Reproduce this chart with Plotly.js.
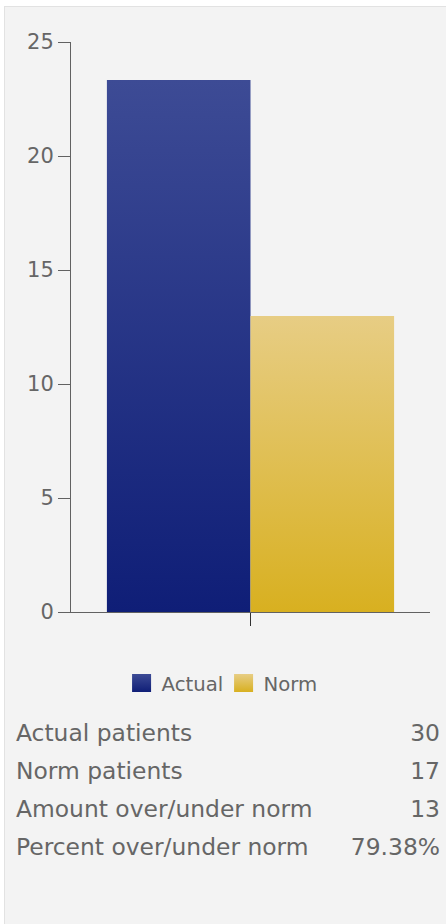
<!DOCTYPE html>
<html>
<head>
<meta charset="utf-8">
<script src="https://cdn.plot.ly/plotly-3.0.1.min.js"></script>
<style>
  html, body { margin: 0; padding: 0; background: #ffffff; }
  body { width: 446px; height: 924px; position: relative; overflow: hidden; font-family: "DejaVu Sans", sans-serif; }
  #frame { position: absolute; left: 4px; top: 6px; width: 442px; height: 918px; background: #f3f3f3;
           border-left: 1px solid #e2e2e2; border-top: 1px solid #e2e2e2; box-sizing: border-box; }
  #chart { position: absolute; left: 0; top: 0; width: 446px; height: 924px; }
  #stats { position: absolute; left: 16px; top: 714px; width: 424px; color: #666666; font-size: 23.4px; }
  .row { display: flex; justify-content: space-between; height: 38px; line-height: 38px; white-space: nowrap; }
</style>
</head>
<body>
<div id="frame"></div>
<div id="chart"></div>
<div id="stats"></div>
<script>
// ---- data ----
const categories = ["Patients"];
const seriesNames = ["Actual", "Norm"];
const actualValues = [23.33];
const normValues = [12.98];
const yTickValues = [0, 5, 10, 15, 20, 25];
const statLabels = ["Actual patients", "Norm patients", "Amount over/under norm", "Percent over/under norm"];
const statValues = ["30", "17", "13", "79.38%"];

// ---- styles ----
const gradients = {
  Actual: ["#3d4b95", "#0f1e77"],
  Norm: ["#e7cd84", "#d8b020"]
};
const FONT = "'DejaVu Sans', sans-serif";

const traces = [
  { type: "bar", name: seriesNames[0], x: categories, y: actualValues,
    marker: { color: "#26347f", line: { width: 0 } }, hoverinfo: "none" },
  { type: "bar", name: seriesNames[1], x: categories, y: normValues,
    marker: { color: "#dfbe50", line: { width: 0 } }, hoverinfo: "none" }
];

const layout = {
  width: 446, height: 924,
  margin: { l: 71, r: 16, t: 42, b: 312, pad: 0 },
  paper_bgcolor: "rgba(0,0,0,0)",
  plot_bgcolor: "rgba(0,0,0,0)",
  font: { family: FONT, color: "#666666", size: 19 },
  barmode: "group", bargap: 0.2, bargroupgap: 0,
  showlegend: true,
  legend: { orientation: "h", x: 0.425, xanchor: "center", y: -0.125, yanchor: "middle",
            entrywidth: 57, entrywidthmode: "pixels",
            font: { family: FONT, size: 19.7, color: "#666666" }, bgcolor: "rgba(0,0,0,0)", itemclick: false, itemdoubleclick: false },
  xaxis: { type: "category", showline: true, linecolor: "rgba(0,0,0,0.6)", linewidth: 1,
           ticks: "outside", ticklen: 13, tickcolor: "rgba(0,0,0,0.8)", tickwidth: 1,
           showticklabels: false, showgrid: false, zeroline: false, fixedrange: true },
  yaxis: { range: [0, 25], tickvals: yTickValues, showline: true, linecolor: "rgba(0,0,0,0.6)", linewidth: 1,
           ticks: "outside", ticklen: 12, tickcolor: "rgba(0,0,0,0.6)", tickwidth: 1,
           tickfont: { family: FONT, size: 21, color: "#666666" }, showgrid: false, zeroline: false, fixedrange: true }
};

Plotly.newPlot("chart", traces, layout, { displayModeBar: false, staticPlot: true }).then(function (gd) {
  const svgNS = "http://www.w3.org/2000/svg";
  const svg = gd.querySelector("svg.main-svg");
  let defs = svg.querySelector("defs");
  if (!defs) { defs = document.createElementNS(svgNS, "defs"); svg.insertBefore(defs, svg.firstChild); }
  Object.keys(gradients).forEach(function (name) {
    const lg = document.createElementNS(svgNS, "linearGradient");
    lg.setAttribute("id", "grad" + name);
    lg.setAttribute("x1", "0"); lg.setAttribute("y1", "0");
    lg.setAttribute("x2", "0"); lg.setAttribute("y2", "1");
    [[0, gradients[name][0]], [1, gradients[name][1]]].forEach(function (s) {
      const st = document.createElementNS(svgNS, "stop");
      st.setAttribute("offset", s[0]);
      st.setAttribute("stop-color", s[1]);
      lg.appendChild(st);
    });
    defs.appendChild(lg);
  });
  const barTraces = gd.querySelectorAll(".barlayer .trace");
  barTraces.forEach(function (t, i) {
    t.querySelectorAll("path").forEach(function (p) { p.style.fill = "url(#grad" + seriesNames[i] + ")"; });
  });
  gd.querySelectorAll(".legend .traces").forEach(function (t) {
    const txt = t.querySelector(".legendtext").textContent;
    t.querySelectorAll(".legendpoints path").forEach(function (p) {
      p.setAttribute("d", "M9.5,9H-9.5V-9H9.5Z");
      p.style.fill = "url(#grad" + txt + ")";
      p.style.stroke = "none";
    });
  });
});

// stats table
const stats = document.getElementById("stats");
statLabels.forEach(function (lab, i) {
  const row = document.createElement("div");
  row.className = "row";
  const a = document.createElement("span"); a.textContent = lab;
  const b = document.createElement("span"); b.textContent = statValues[i];
  row.appendChild(a); row.appendChild(b);
  stats.appendChild(row);
});
</script>
</body>
</html>
